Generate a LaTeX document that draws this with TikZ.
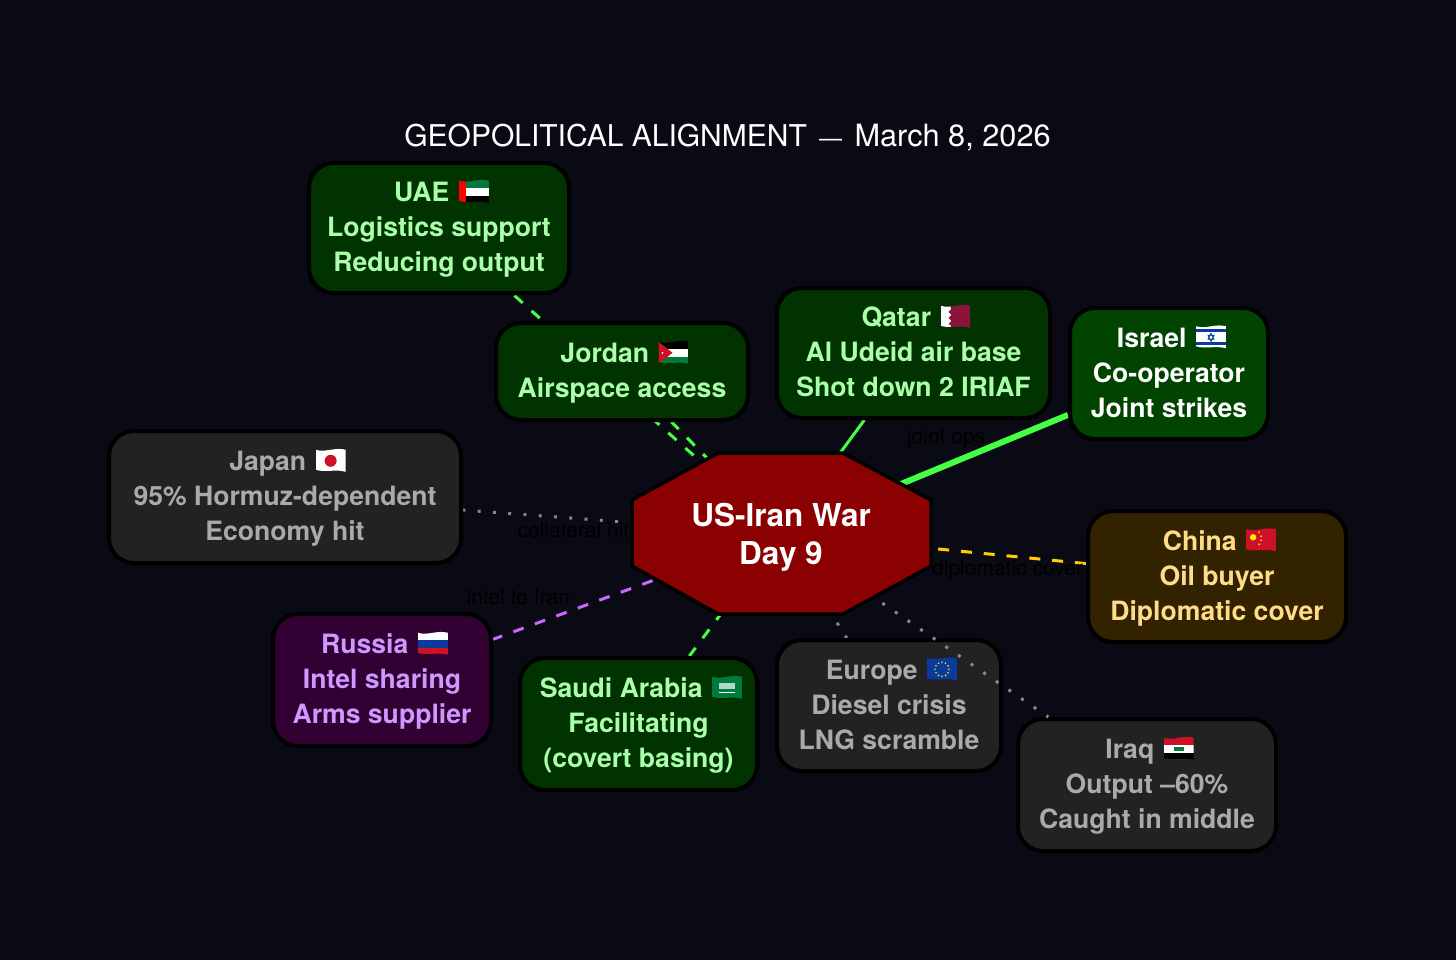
\documentclass[tikz,border=0pt]{standalone}
\usepackage{fontspec}
\setmainfont{TeX Gyre Heros}
\usetikzlibrary{backgrounds}

\definecolor{nightbg}{HTML}{0A0A14}
\definecolor{warred}{HTML}{8B0000}
\definecolor{allygreen}{HTML}{003300}
\definecolor{israelgreen}{HTML}{004400}
\definecolor{mutedgray}{HTML}{222222}
\definecolor{rusviolet}{HTML}{330033}
\definecolor{chinabrown}{HTML}{332200}
\definecolor{allytext}{HTML}{AAFFAA}
\definecolor{graytext}{HTML}{AAAAAA}
\definecolor{rustext}{HTML}{CC99FF}
\definecolor{chinatext}{HTML}{FFDD88}
\definecolor{allyline}{HTML}{44FF44}
\definecolor{rusline}{HTML}{CC66FF}
\definecolor{chinaline}{HTML}{FFCC00}
\definecolor{grayline}{HTML}{888888}
\definecolor{flagred}{HTML}{CE1126}
\definecolor{flaggreen}{HTML}{007A3D}
\definecolor{flagblue}{HTML}{0A3A9E}
\definecolor{flagmaroon}{HTML}{8A1538}

% little flags that sit in the first text line
\newcommand{\flagmark}[1]{\hspace{2pt}\tikz[baseline=1pt,x=1pt,y=1pt,sharp corners,line width=0pt]{\clip (0,2) .. controls (10,-1) and (20,3) .. (30,0) -- (30,22) .. controls (20,25) and (10,19) .. (0,22) -- cycle;#1}\kern-5pt}
\newcommand{\threebars}[3]{%
  \fill[#1] (0,14.7) rectangle (30,24);
  \fill[#2] (0,7.3) rectangle (30,14.7);
  \fill[#3] (0,-1) rectangle (30,7.3);}
\newcommand{\flagUAE}{\flagmark{\threebars{flaggreen}{white}{black}\fill[red] (0,-1) rectangle (7,24);}}
\newcommand{\flagJordan}{\flagmark{\threebars{black}{white}{flaggreen}\fill[flagred] (0,0) -- (14,11) -- (0,22) -- cycle;\fill[white] (4,11) circle (1);}}
\newcommand{\flagQatar}{\flagmark{\fill[white] (0,-1) rectangle (10,24);\fill[flagmaroon] (30,-1) -- (30,24) -- (8,24) -- (11,19) -- (8,16) -- (11,13) -- (8,10) -- (11,7) -- (8,4) -- (11,2) -- (8,-1) -- cycle;}}
\newcommand{\flagIsrael}{\flagmark{\fill[white] (0,-1) rectangle (30,24);\fill[flagblue] (0,3) rectangle (30,6);\fill[flagblue] (0,16) rectangle (30,19);\draw[flagblue,line width=.8pt] (15,15) -- (18,9) -- (12,9) -- cycle (15,7) -- (18,13) -- (12,13) -- cycle;}}
\newcommand{\flagJapan}{\flagmark{\fill[white] (0,-1) rectangle (30,24);\fill[flagred] (15,11) circle (6);}}
\newcommand{\flagChina}{\flagmark{\fill[flagred] (0,-1) rectangle (30,24);\fill[yellow] (7,14) circle (3.2);\foreach \sx/\sy in {13/19,15/15,15/11,13/7}{\fill[yellow] (\sx,\sy) circle (1);}}}
\newcommand{\flagRussia}{\flagmark{\threebars{white}{flagblue}{flagred}}}
\newcommand{\flagSaudi}{\flagmark{\fill[flaggreen] (0,-1) rectangle (30,24);\fill[white!70!flaggreen] (7,10) rectangle (23,16);\fill[white] (7,6) rectangle (23,7);}}
\newcommand{\flagEurope}{\flagmark{\fill[flagblue] (0,-1) rectangle (30,24);\foreach \a in {0,30,...,330}{\fill[yellow] (15,11) ++(\a:7) circle (.9);}}}
\newcommand{\flagIraq}{\flagmark{\threebars{flagred}{white}{black}\fill[flaggreen] (10,9) rectangle (20,13);}}

\begin{document}
\begin{tikzpicture}[x=1pt,y=-1pt]
\tikzstyle{country} = [rectangle, rounded corners=25pt, draw=black, line width=4pt, text centered, align=center, inner sep=0pt, text depth=6.4pt, font=\fontsize{26.6}{35}\selectfont\bfseries]
\tikzstyle{allybox} = [country, fill=allygreen, text=allytext]
\tikzstyle{israelbox} = [country, fill=israelgreen, text=white]
\tikzstyle{graybox} = [country, fill=mutedgray, text=graytext]
\tikzstyle{russiabox} = [country, fill=rusviolet, text=rustext]
\tikzstyle{chinabox} = [country, fill=chinabrown, text=chinatext]
\tikzstyle{warshape} = [draw=black, line width=3.5pt, fill=warred]
\tikzstyle{warbox} = [rectangle, minimum width=180pt, minimum height=80pt, inner sep=0pt, text=white, align=center, text depth=0pt, font=\fontsize{31.5}{38}\selectfont\bfseries]
\tikzstyle{link} = [line width=3pt]
\tikzstyle{dashlink} = [link, dash pattern=on 11pt off 11.9pt]
\tikzstyle{dotlink} = [link, grayline, dash pattern=on 3pt off 12.3pt]
\tikzstyle{linklabel} = [text=black, inner sep=0pt, font=\fontsize{21}{24}\selectfont]

\useasboundingbox (0,0) rectangle (1456,960);

\node (title) at (727.5,138) [text=white, inner sep=0pt, font=\fontsize{30}{36}\selectfont] {GEOPOLITICAL ALIGNMENT\hspace{4pt} {\fontsize{23}{36}\selectfont ---}\hspace{4pt} {\fontsize{30.7}{36}\selectfont March 8, 2026}};

\draw [warshape] (718,453) -- (843,453) -- (931,500) -- (931,566) -- (843,614) -- (718,614) -- (632,566) -- (632,500) -- cycle;
\node (war) at (781,533.5) [warbox] {US-Iran War\\Day 9};

\node (uae) at (439,228) [allybox, minimum width=260pt, minimum height=130pt] {UAE \flagUAE\\Logistics support\\Reducing output};
\node (jordan) at (622,371.5) [allybox, minimum width=252pt, minimum height=97pt] {Jordan \flagJordan\\Airspace access};
\node (qatar) at (913.5,353) [allybox, minimum width=273pt, minimum height=130pt] {Qatar \flagQatar\\Al Udeid air base\\Shot down 2 IRIAF};
\node (israel) at (1169,373.5) [israelbox, minimum width=198pt, minimum height=131pt] {Israel \flagIsrael\\Co-operator\\Joint strikes};
\node (japan) at (285,497) [graybox, minimum width=352pt, minimum height=132pt] {Japan \flagJapan\\95\% Hormuz-dependent\\Economy hit};
\node (china) at (1217,576.5) [chinabox, minimum width=258pt, minimum height=131pt] {China \flagChina\\Oil buyer\\Diplomatic cover};
\node (russia) at (382,680) [russiabox, minimum width=218pt, minimum height=132pt] {Russia \flagRussia\\Intel sharing\\Arms supplier};
\node (saudi) at (638.5,724) [allybox, minimum width=237pt, minimum height=132pt] {Saudi Arabia \flagSaudi\\Facilitating\\(covert basing)};
\node (europe) at (889,705.5) [graybox, minimum width=224pt, minimum height=131pt] {Europe \flagEurope\\Diesel crisis\\LNG scramble};
\node (iraq) at (1147,785) [graybox, minimum width=258pt, minimum height=132pt] {Iraq \flagIraq\\Output --60\%\\Caught in middle};

\begin{scope}[on background layer]
\fill [nightbg] (0,0) rectangle (1456,960);
\draw [link, allyline, line width=6pt] (war) -- node[linklabel, xshift=-23.5pt, yshift=17pt] {joint ops} (israel);
\draw [link, allyline] (war) -- (qatar);
\draw [dashlink, allyline, shorten <=44pt] (war) -- (jordan);
\draw [dashlink, allyline, shorten <=57pt] (war) -- (uae);
\draw [dashlink, allyline, shorten <=46.7pt] (war) -- (saudi);
\draw [dashlink, chinaline, shorten <=67.3pt] (war) -- node[linklabel, xshift=29pt, yshift=-17pt] {diplomatic cover} (china);
\draw [dashlink, rusline, shorten <=40.7pt] (war) -- node[linklabel, xshift=-73.5pt, yshift=6pt] {intel to Iran} (russia);
\draw [dotlink, shorten <=73pt] (war) -- node[linklabel, xshift=-3.5pt, yshift=-11.5pt] {collateral hit} (japan);
\draw [dotlink, shorten <=58pt] (war) -- (europe);
\end{scope}

\draw [dotlink, shorten <=52pt] (war) -- (iraq);

\end{tikzpicture}
\end{document}
